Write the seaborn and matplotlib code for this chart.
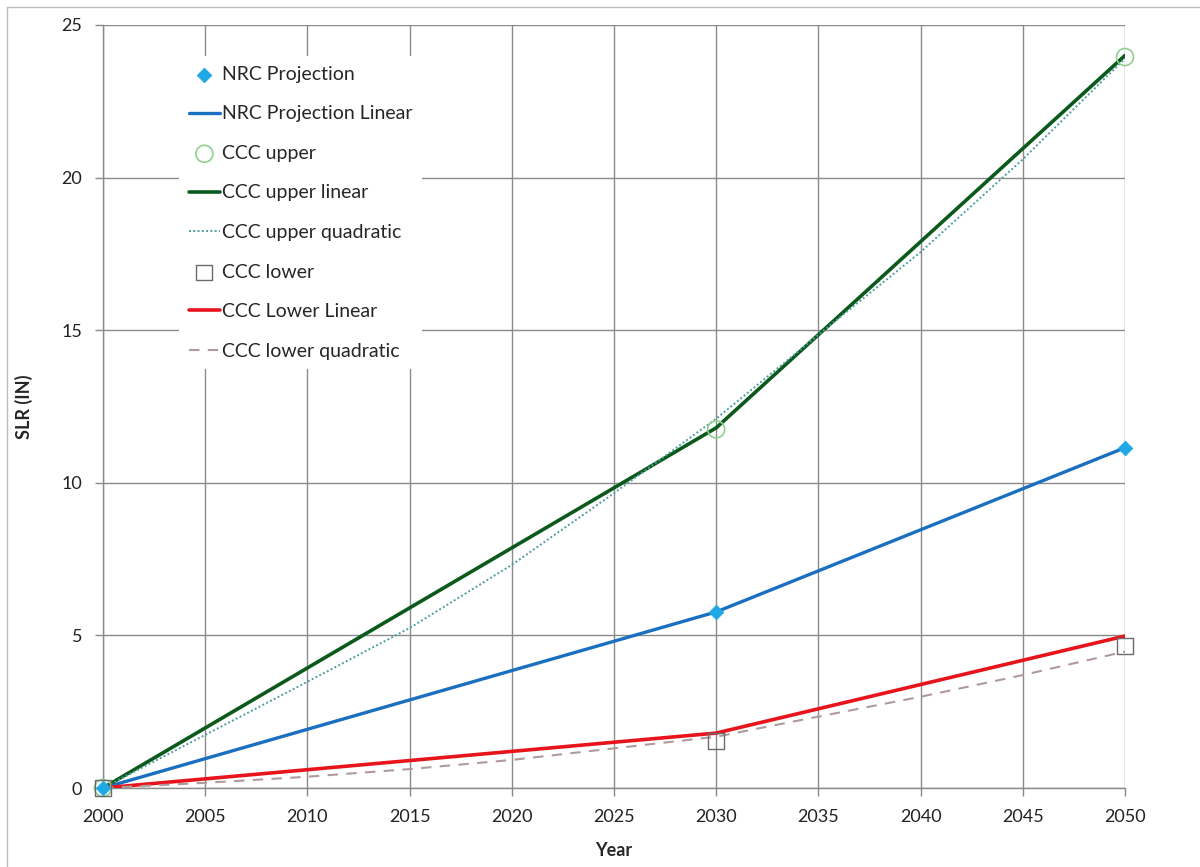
import numpy as np
import pandas as pd
import seaborn as sns
import matplotlib.pyplot as plt
from matplotlib.patches import Rectangle

# data
years = [2000, 2030, 2050]
nrc_projection = [0.0, 5.77, 11.15]
nrc_linear = [0.0, 5.77, 11.15]
ccc_upper = [0.0, 11.75, 23.95]
ccc_upper_linear = [0.0, 11.8, 24.0]
ccc_lower = [0.0, 1.55, 4.65]
ccc_lower_linear = [0.0, 1.8, 4.98]

quad_years = [2000, 2005, 2010, 2015, 2020, 2025, 2030, 2035, 2040, 2045, 2050]
ccc_upper_quad = [0.0, 1.74, 3.48, 5.24, 7.31, 9.66, 12.1, 14.85, 17.56, 20.6, 23.9]
ccc_lower_quad = [0.0, 0.17, 0.37, 0.62, 0.92, 1.3, 1.68, 2.34, 2.99, 3.7, 4.47]

x_ticks = list(range(2000, 2051, 5))
y_ticks = [0, 5, 10, 15, 20, 25]

sns.set_style("white")
plt.rcParams['font.family'] = ['Lato', 'DejaVu Sans']

pts = pd.DataFrame({'year': years, 'nrc': nrc_projection, 'nrc_lin': nrc_linear,
                    'up': ccc_upper, 'up_lin': ccc_upper_linear,
                    'low': ccc_lower, 'low_lin': ccc_lower_linear})
quad = pd.DataFrame({'year': quad_years, 'up_q': ccc_upper_quad, 'low_q': ccc_lower_quad})

fig = plt.figure(figsize=(12, 8.67), dpi=100)
ax = fig.add_axes([0.0858, 0.0911, 0.8517, 0.8801])

# outer chart border
fig.patches.append(Rectangle((7 / 1200, -0.05), 1.2, 1 - 7 / 867 + 0.05,
                             transform=fig.transFigure, fill=False,
                             edgecolor='#bdbdbd', linewidth=1.0, zorder=0))

sns.scatterplot(data=pts, x='year', y='nrc', ax=ax, marker='D', s=55,
                color='#1fa8e6', edgecolor='#1fa8e6', zorder=6, label='NRC Projection')
sns.lineplot(data=pts, x='year', y='nrc_lin', ax=ax, color='#1a6fc0',
             linewidth=2.4, zorder=4, label='NRC Projection Linear')
sns.scatterplot(data=pts, x='year', y='up', ax=ax, marker='o', s=150,
                facecolor='none', edgecolor='#8fd08f', linewidth=1.2, zorder=5,
                label='CCC upper')
sns.lineplot(data=pts, x='year', y='up_lin', ax=ax, color='#0b5a1c',
             linewidth=2.6, zorder=4, label='CCC upper linear')
sns.lineplot(data=quad, x='year', y='up_q', ax=ax, color='#4f9ea0',
             linewidth=1.4, linestyle=(0, (1, 1.2)), zorder=4,
             label='CCC upper quadratic')
sns.scatterplot(data=pts, x='year', y='low', ax=ax, marker='s', s=130,
                facecolor='none', edgecolor='#6b6b6b', linewidth=1.0, zorder=5,
                label='CCC lower')
sns.lineplot(data=pts, x='year', y='low_lin', ax=ax, color='#e8141c',
             linewidth=2.6, zorder=4, label='CCC Lower Linear')
sns.lineplot(data=quad, x='year', y='low_q', ax=ax, color='#b09a9a',
             linewidth=1.5, linestyle=(0, (5, 4)), zorder=4,
             label='CCC lower quadratic')

# markers sit on the axes edge, don't clip them
for coll in ax.collections:
    coll.set_clip_on(False)

ax.set_xlim(2000, 2050)
ax.set_ylim(0, 25)
ax.set_xticks(x_ticks)
ax.set_yticks(y_ticks)
ax.grid(True, color='#8a8a8a', linewidth=1.0)
ax.set_axisbelow(True)
for side in ['top', 'right']:
    ax.spines[side].set_visible(False)
for side in ['left', 'bottom']:
    ax.spines[side].set_color('#8a8a8a')
    ax.spines[side].set_linewidth(1.0)
ax.tick_params(axis='both', which='both', direction='out', length=6, width=1.0,
               color='#8a8a8a', labelsize=13, labelcolor='#222222')
ax.tick_params(axis='x', bottom=True, pad=9)
ax.tick_params(axis='y', left=True, pad=9)

ax.set_xlabel('Year', fontsize=13, fontweight='bold', labelpad=12)
ax.set_ylabel('SLR (IN)', fontsize=13, fontweight='bold', labelpad=20)

leg = ax.legend(loc='upper left', bbox_to_anchor=(0.065, 0.972), fontsize=14,
                frameon=True, fancybox=False, framealpha=1.0, edgecolor='none',
                facecolor='white', handlelength=1.6, handletextpad=0.1,
                labelspacing=1.16, borderpad=0.5)
leg.set_zorder(10)

fig.savefig('out.png', dpi=100)
